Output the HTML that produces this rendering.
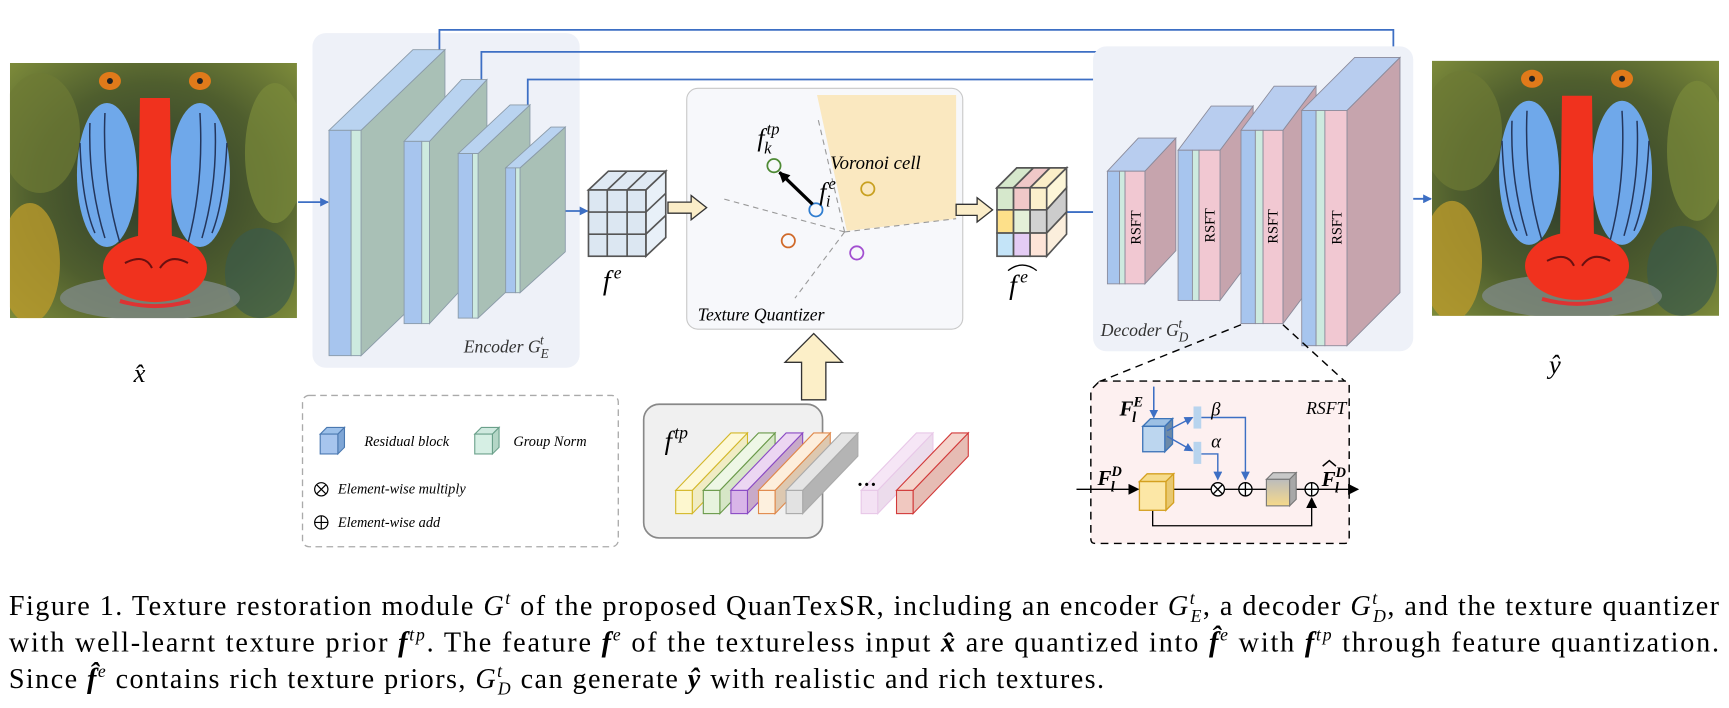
<!DOCTYPE html>
<html><head><meta charset="utf-8"><style>
html,body{margin:0;padding:0;background:#fff;}
svg{display:block;}
text{font-family:"Liberation Serif",serif;}
.it{font-style:italic;}
</style></head><body>
<svg width="1729" height="708" viewBox="0 0 1566 641" preserveAspectRatio="none" xmlns="http://www.w3.org/2000/svg">
<defs>
<marker id="ab" markerWidth="8" markerHeight="8" refX="7" refY="4" orient="auto" markerUnits="userSpaceOnUse"><path d="M0,0 L8,4 L0,8 z" fill="#3d6fc4"/></marker>
<marker id="ak" markerWidth="10" markerHeight="10" refX="9" refY="5" orient="auto" markerUnits="userSpaceOnUse"><path d="M0,0 L10,5 L0,10 z" fill="#000"/></marker>
<radialGradient id="fur" cx="50%" cy="50%" r="70%"><stop offset="0" stop-color="#2c3a2a"/><stop offset="0.6" stop-color="#4f5e2e"/><stop offset="1" stop-color="#7c8a3a"/></radialGradient>
<linearGradient id="cg" x1="0" y1="0" x2="0" y2="1"><stop offset="0" stop-color="#bcbcbc"/><stop offset="1" stop-color="#f6d98a"/></linearGradient>
<clipPath id="bc"><rect x="0" y="0" width="287" height="255"/></clipPath>
<g id="baboon" clip-path="url(#bc)">
<rect x="0" y="0" width="287" height="255" fill="url(#fur)"/>
<ellipse cx="30" cy="70" rx="40" ry="60" fill="#6e7a34" opacity="0.7"/>
<ellipse cx="20" cy="200" rx="30" ry="60" fill="#b99a2c" opacity="0.8"/>
<ellipse cx="265" cy="90" rx="30" ry="70" fill="#7a8a3a" opacity="0.7"/>
<ellipse cx="250" cy="210" rx="35" ry="45" fill="#3a5a4a" opacity="0.7"/>
<ellipse cx="140" cy="235" rx="90" ry="22" fill="#7e8a86" opacity="0.8"/>
<ellipse cx="100" cy="18" rx="11" ry="9" fill="#e07a1a"/>
<ellipse cx="190" cy="18" rx="11" ry="9" fill="#e07a1a"/>
<circle cx="100" cy="18" r="3" fill="#222"/><circle cx="190" cy="18" r="3" fill="#222"/>
<ellipse cx="97" cy="112" rx="30" ry="72" fill="#6fa8ea"/>
<ellipse cx="190" cy="112" rx="30" ry="72" fill="#6fa8ea"/>
<g stroke="#24365c" stroke-width="1.5" fill="none">
<path d="M80 60 Q78 120 95 175"/><path d="M95 50 Q92 120 110 180"/><path d="M70 80 Q72 140 85 170"/>
<path d="M205 60 Q208 120 192 175"/><path d="M190 50 Q194 120 178 180"/><path d="M217 80 Q214 140 202 170"/>
</g>
<path d="M130 35 L160 35 L162 180 L128 180 z" fill="#f0321e"/>
<ellipse cx="145" cy="205" rx="52" ry="34" fill="#f0321e"/>
<path d="M115 200 Q135 190 142 205 M150 205 Q160 190 178 200" stroke="#6a1010" stroke-width="2" fill="none"/>
<path d="M110 238 Q145 248 180 238" stroke="#d33" stroke-width="4" fill="none"/>
</g>
</defs>

<!-- images -->
<use href="#baboon" transform="translate(9,57) scale(0.9058)"/>
<use href="#baboon" transform="translate(1297,55) scale(0.9058)"/>
<text x="121" y="346" font-size="24" class="it">x̂</text>
<text x="1403" y="338" font-size="24" class="it">ŷ</text>

<!-- encoder bg -->
<rect x="283" y="30" width="242" height="303" rx="12" fill="#eef1f8"/>
<!-- skip lines -->
<g stroke="#3d6fc4" stroke-width="1.6" fill="none">
<polyline points="398,47 398,27 1262,27 1262,55" marker-end="url(#ab)"/>
<polyline points="436,72 436,47 1190,47 1190,72" marker-end="url(#ab)"/>
<polyline points="478,95 478,72 1133,72 1133,90" marker-end="url(#ab)"/>
<line x1="270" y1="183" x2="297" y2="183" marker-end="url(#ab)"/>
<line x1="478" y1="191" x2="532" y2="191" marker-end="url(#ab)"/>
<line x1="948" y1="192" x2="1002" y2="192" marker-end="url(#ab)"/>
<line x1="1268" y1="180" x2="1296" y2="180" marker-end="url(#ab)"/>
</g>
<!-- encoder slabs -->
<g stroke="#8a9aa8" stroke-width="0.8">
<polygon points="327,118 403,45 403,249 327,322" fill="#a9c0b6"/>
<polygon points="298,118 374,45 403,45 327,118" fill="#b9d3f0"/>
<rect x="298" y="118" width="20" height="204" fill="#a7c5ee"/><rect x="318" y="118" width="9" height="204" fill="#cdeadf"/>

<polygon points="389,128 441,72 441,237 389,293" fill="#a9c0b6"/>
<polygon points="366,128 418,72 441,72 389,128" fill="#b9d3f0"/>
<rect x="366" y="128" width="16" height="165" fill="#a7c5ee"/><rect x="382" y="128" width="7" height="165" fill="#cdeadf"/>

<polygon points="433,139 480,95 480,244 433,288" fill="#a9c0b6"/>
<polygon points="415,139 462,95 480,95 433,139" fill="#b9d3f0"/>
<rect x="415" y="139" width="13" height="149" fill="#a7c5ee"/><rect x="428" y="139" width="5" height="149" fill="#cdeadf"/>

<polygon points="471,152 512,115 512,228 471,265" fill="#a9c0b6"/>
<polygon points="458,152 499,115 512,115 471,152" fill="#b9d3f0"/>
<rect x="458" y="152" width="9" height="113" fill="#a7c5ee"/><rect x="467" y="152" width="4" height="113" fill="#cdeadf"/>
</g>
<text x="420" y="319" font-size="16" class="it" fill="#333">Encoder G<tspan font-size="12" dy="5">E</tspan><tspan font-size="12" dx="-8" dy="-12">t</tspan></text>

<!-- f^e cube -->
<g stroke="#555" stroke-width="1.5">
<polygon points="533,172 551,155 603,155 585,172" fill="#dfe9f3"/>
<polygon points="585,172 603,155 603,215 585,232" fill="#e8f0f8"/>
<rect x="533" y="172" width="52" height="60" fill="#dce7f2"/>
<path d="M550 172V232M568 172V232M533 192H585M533 212H585M550 172L568 155M568 172L586 155M585 192L603 175M585 212L603 195" fill="none"/>
</g>
<text x="546" y="262" font-size="25" class="it">f<tspan font-size="16" dx="3" dy="-10">e</tspan></text>

<!-- quantizer -->
<rect x="622" y="80" width="250" height="218" rx="10" fill="#f7f8fb" stroke="#c8c8c8"/>
<polygon points="740,86 866,86 866,198 767,209" fill="#fae8c0"/>
<g stroke="#999" stroke-width="1" stroke-dasharray="5,4" fill="none">
<line x1="765" y1="210" x2="741" y2="108"/><line x1="765" y1="210" x2="655" y2="180"/>
<line x1="765" y1="210" x2="720" y2="270"/><line x1="765" y1="210" x2="866" y2="198"/>
</g>
<g fill="none" stroke-width="1.6">
<circle cx="701" cy="150" r="6" stroke="#4e8a34"/><circle cx="739" cy="190" r="6" stroke="#2f7dd0"/>
<circle cx="786" cy="171" r="6" stroke="#c8a020"/><circle cx="714" cy="218" r="6" stroke="#d06a2a"/>
<circle cx="776" cy="229" r="6" stroke="#a24fd0"/>
</g>
<line x1="736" y1="185" x2="706" y2="156" stroke="#000" stroke-width="3" marker-end="url(#ak)"/>
<text x="686" y="132" font-size="23" class="it">f<tspan font-size="15" dx="2" dy="-10">tp</tspan><tspan font-size="15" dx="-14" dy="17">k</tspan></text>
<text x="742" y="181" font-size="23" class="it">f<tspan font-size="15" dx="2" dy="-10">e</tspan><tspan font-size="15" dx="-9" dy="16">i</tspan></text>
<text x="752" y="153" font-size="17" class="it">Voronoi cell</text>
<text x="632" y="290" font-size="16" class="it">Texture Quantizer</text>

<!-- hollow arrows -->
<path d="M605,183 H626 V177 L640,188 L626,199 V193 H605 z" fill="#fbedc8" stroke="#333" stroke-width="1.2"/>
<path d="M866,185 H885 V179 L899,190 L885,201 V195 H866 z" fill="#fbedc8" stroke="#333" stroke-width="1.2"/>

<!-- big up arrow -->
<path d="M726,362 V328 H711 L737,302 L763,328 H748 V362 z" fill="#fcefc8" stroke="#333" stroke-width="1.2"/>
<!-- ftp box -->
<rect x="583" y="366" width="162" height="121" rx="14" fill="#f0f0f0" stroke="#888" stroke-width="1.5"/>
<text x="602" y="407" font-size="24" class="it">f<tspan font-size="16" dx="2" dy="-10">tp</tspan></text>
<g stroke-width="1">
<g stroke="#d4b82a"><polygon points="627,444 677,392 677,413 627,465" fill="#f0ecc4"/><polygon points="612,444 662,392 677,392 627,444" fill="#fdf8d8"/><rect x="612" y="444" width="15" height="21" fill="#fdf7cf"/></g>
<g stroke="#6a9a4a"><polygon points="652,444 702,392 702,413 652,465" fill="#d6e6c6"/><polygon points="637,444 687,392 702,392 652,444" fill="#eef7e6"/><rect x="637" y="444" width="15" height="21" fill="#e7f3de"/></g>
<g stroke="#8a4ac4"><polygon points="677,444 727,392 727,413 677,465" fill="#c8aac8"/><polygon points="662,444 712,392 727,392 677,444" fill="#ecd6f2"/><rect x="662" y="444" width="15" height="21" fill="#d9b5e8"/></g>
<g stroke="#e0884a"><polygon points="702,444 752,392 752,413 702,465" fill="#ddc8b0"/><polygon points="687,444 737,392 752,392 702,444" fill="#fdeedc"/><rect x="687" y="444" width="15" height="21" fill="#fdf0de"/></g>
<g stroke="#aaa"><polygon points="727,444 777,392 777,413 727,465" fill="#b4b4b4"/><polygon points="712,444 762,392 777,392 727,444" fill="#e4e4e4"/><rect x="712" y="444" width="15" height="21" fill="#e2e2e2"/></g>
<g stroke="#e8c8e8"><polygon points="795,444 845,392 845,413 795,465" fill="#ecdcec"/><polygon points="780,444 830,392 845,392 795,444" fill="#f6e6f6"/><rect x="780" y="444" width="15" height="21" fill="#f4e2f4"/></g>
<g stroke="#d23a3a"><polygon points="827,444 877,392 877,413 827,465" fill="#e6bcb4"/><polygon points="812,444 862,392 877,392 827,444" fill="#f4d4cc"/><rect x="812" y="444" width="15" height="21" fill="#f0c8c0"/></g>
</g>
<text x="776" y="440" font-size="18" font-weight="bold">…</text>

<!-- f-hat cube -->
<g stroke="#555" stroke-width="1.5">
<polygon points="903,170 921,152 966,152 948,170" fill="#eee"/>
<polygon points="903,170 921,152 936,152 918,170" fill="#d6e8cc"/><polygon points="918,170 936,152 951,152 933,170" fill="#f0c8c8"/><polygon points="933,170 951,152 966,152 948,170" fill="#fbeec8"/>
<polygon points="948,170 966,152 966,170 948,190" fill="#fdf6d8"/><polygon points="948,190 966,170 966,192 948,211" fill="#cccccc"/><polygon points="948,211 966,192 966,212 948,232" fill="#fbeedc"/>
<rect x="903" y="170" width="15" height="20" fill="#d6e8cc"/><rect x="918" y="170" width="15" height="20" fill="#f0c8c8"/><rect x="933" y="170" width="15" height="20" fill="#fbf0cc"/>
<rect x="903" y="190" width="15" height="21" fill="#fde08a"/><rect x="918" y="190" width="15" height="21" fill="#e4f0d8"/><rect x="933" y="190" width="15" height="21" fill="#d2d2d2"/>
<rect x="903" y="211" width="15" height="21" fill="#c4e4f8"/><rect x="918" y="211" width="15" height="21" fill="#e4ccf4"/><rect x="933" y="211" width="15" height="21" fill="#fde4d8"/>
</g>
<text x="914" y="266" font-size="25" class="it">f<tspan font-size="16" dx="3" dy="-10">e</tspan></text>
<path d="M913 245 Q926 235 939 245" stroke="#000" stroke-width="1.2" fill="none"/>

<!-- decoder -->
<rect x="990" y="42" width="290" height="276" rx="12" fill="#eef1f8"/>
<g stroke="#8a8a9a" stroke-width="0.8">
<polygon points="1037,155 1065,125 1065,227 1037,257" fill="#c6a4ad"/>
<polygon points="1003,155 1031,125 1065,125 1037,155" fill="#b8cdef"/>
<rect x="1003" y="155" width="11" height="102" fill="#a7c5ee"/><rect x="1014" y="155" width="5" height="102" fill="#cdeadf"/><rect x="1019" y="155" width="18" height="102" fill="#f1c8d2"/>

<polygon points="1105,136 1135,96 1135,232 1105,272" fill="#c6a4ad"/>
<polygon points="1067,136 1097,96 1135,96 1105,136" fill="#b8cdef"/>
<rect x="1067" y="136" width="13" height="136" fill="#a7c5ee"/><rect x="1080" y="136" width="6" height="136" fill="#cdeadf"/><rect x="1086" y="136" width="19" height="136" fill="#f1c8d2"/>

<polygon points="1162,118 1192,78 1192,253 1162,293" fill="#c6a4ad"/>
<polygon points="1124,118 1154,78 1192,78 1162,118" fill="#b8cdef"/>
<rect x="1124" y="118" width="13" height="175" fill="#a7c5ee"/><rect x="1137" y="118" width="7" height="175" fill="#cdeadf"/><rect x="1144" y="118" width="18" height="175" fill="#f1c8d2"/>

<polygon points="1220,100 1268,52 1268,265 1220,313" fill="#c6a4ad"/>
<polygon points="1179,100 1227,52 1268,52 1220,100" fill="#b8cdef"/>
<rect x="1179" y="100" width="13" height="213" fill="#a7c5ee"/><rect x="1192" y="100" width="8" height="213" fill="#cdeadf"/><rect x="1200" y="100" width="20" height="213" fill="#f1c8d2"/>
</g>
<g font-size="13">
<text transform="translate(1033,206) rotate(-90)" text-anchor="middle">RSFT</text>
<text transform="translate(1100,204) rotate(-90)" text-anchor="middle">RSFT</text>
<text transform="translate(1157,205) rotate(-90)" text-anchor="middle">RSFT</text>
<text transform="translate(1215,206) rotate(-90)" text-anchor="middle">RSFT</text>
</g>
<text x="997" y="304" font-size="16" class="it" fill="#333">Decoder G<tspan font-size="12" dy="5">D</tspan><tspan font-size="12" dx="-9" dy="-12">t</tspan></text>

<!-- zoom lines + RSFT box -->
<g stroke="#000" stroke-width="1.3" stroke-dasharray="7,5" fill="none">
<line x1="1124" y1="294" x2="992" y2="347"/><line x1="1162" y1="294" x2="1220" y2="347"/>
</g>
<path d="M996,345 H1218 Q1222,345 1222,349 V488 Q1222,492 1218,492 H992 Q988,492 988,488 V353 z" fill="#fdf0f0" stroke="#000" stroke-width="1.3" stroke-dasharray="7,5"/>
<text x="1183" y="375" font-size="16" class="it">RSFT</text>
<text x="1014" y="376" font-size="19" font-weight="bold" class="it">F<tspan font-size="13" dy="-8">E</tspan><tspan font-size="13" dx="-10" dy="14">l</tspan></text>
<line x1="1045" y1="350" x2="1045" y2="378" stroke="#3d6fc4" stroke-width="1.4" marker-end="url(#ab)"/>
<g stroke="#3d74b8" stroke-width="1.2">
<polygon points="1035,386 1042,379 1062,379 1055,386" fill="#9cc0e4"/>
<polygon points="1055,386 1062,379 1062,402 1055,409" fill="#6c8aa8"/>
<rect x="1035" y="386" width="20" height="23" fill="#bcd6ef"/>
</g>
<g stroke="#3d6fc4" stroke-width="1.3" fill="none">
<line x1="1057" y1="390" x2="1080" y2="378" marker-end="url(#ab)"/>
<line x1="1057" y1="395" x2="1080" y2="408" marker-end="url(#ab)"/>
<polyline points="1088,378 1128,378 1128,434" marker-end="url(#ab)"/>
<polyline points="1088,411 1103,411 1103,434" marker-end="url(#ab)"/>
</g>
<rect x="1081" y="368" width="7" height="20" fill="#b8d4ee"/>
<rect x="1081" y="400" width="7" height="20" fill="#b8d4ee"/>
<text x="1097" y="376" font-size="17" class="it">β</text>
<text x="1097" y="405" font-size="17" class="it">α</text>
<text x="994" y="439" font-size="19" font-weight="bold" class="it">F<tspan font-size="13" dy="-8">D</tspan><tspan font-size="13" dx="-10" dy="14">l</tspan></text>
<g stroke="#000" stroke-width="1.2" fill="none">
<line x1="975" y1="443" x2="1031" y2="443" marker-end="url(#ak)"/>
<line x1="1058" y1="443" x2="1097" y2="443"/>
<line x1="1109" y1="443" x2="1122" y2="443"/>
<line x1="1134" y1="443" x2="1147" y2="443"/>
<line x1="1168" y1="443" x2="1182" y2="443"/>
<line x1="1194" y1="443" x2="1230" y2="443" marker-end="url(#ak)"/>
<polyline points="1044,462 1044,476 1188,476 1188,451" marker-end="url(#ak)"/>
<circle cx="1103" cy="443" r="6" fill="#fff"/><path d="M1099,439 L1107,447 M1107,439 L1099,447"/>
<circle cx="1128" cy="443" r="6" fill="#fff"/><path d="M1122,443 H1134 M1128,437 V449"/>
<circle cx="1188" cy="443" r="6" fill="#fff"/><path d="M1182,443 H1194 M1188,437 V449"/>
</g>
<g stroke="#d4a020" stroke-width="1.2">
<polygon points="1032,436 1039,429 1063,429 1056,436" fill="#f6dc8c"/>
<polygon points="1056,436 1063,429 1063,455 1056,462" fill="#e8c870"/>
<rect x="1032" y="436" width="24" height="26" fill="#fce7a6"/>
</g>
<g stroke="#777" stroke-width="1">
<polygon points="1147,434 1153,428 1174,428 1168,434" fill="#c8c8c8"/>
<polygon points="1168,434 1174,428 1174,452 1168,458" fill="#a8a8a8"/>
<rect x="1147" y="434" width="21" height="24" fill="url(#cg)"/>
</g>
<text x="1197" y="440" font-size="19" font-weight="bold" class="it">F<tspan font-size="13" dy="-8">D</tspan><tspan font-size="13" dx="-10" dy="14">l</tspan></text>
<path d="M1198 422 L1204 417 L1210 422" stroke="#000" stroke-width="1.4" fill="none"/>

<!-- legend -->
<rect x="274" y="358" width="286" height="137" rx="6" fill="#fff" stroke="#aaa" stroke-width="1.2" stroke-dasharray="6,4"/>
<g stroke="#4a78b0" stroke-width="1"><polygon points="290,393 296,387 312,387 306,393" fill="#9cc0ea"/><polygon points="306,393 312,387 312,405 306,411" fill="#7fa6d6"/><rect x="290" y="393" width="16" height="18" fill="#a7c5ee"/></g>
<g stroke="#6aa08a" stroke-width="1"><polygon points="430,393 436,387 452,387 446,393" fill="#cfe9df"/><polygon points="446,393 452,387 452,405 446,411" fill="#b4d6c6"/><rect x="430" y="393" width="16" height="18" fill="#d6efe4"/></g>
<text x="330" y="404" font-size="13" class="it">Residual block</text>
<text x="465" y="404" font-size="13" class="it">Group Norm</text>
<g stroke="#000" stroke-width="1.1" fill="none">
<circle cx="291" cy="443" r="6"/><path d="M287,439 L295,447 M295,439 L287,447"/>
<circle cx="291" cy="473" r="6"/><path d="M285,473 H297 M291,467 V479"/>
</g>
<text x="306" y="447" font-size="13" class="it">Element-wise multiply</text>
<text x="306" y="477" font-size="13" class="it">Element-wise add</text>

<!-- caption -->
<g font-size="25.5">
<text x="8" y="557" textLength="1549" lengthAdjust="spacing">Figure 1. Texture restoration module <tspan class="it">G</tspan><tspan font-size="16" dy="-10" class="it">t</tspan><tspan dy="10"> of the proposed QuanTexSR, including an encoder </tspan><tspan class="it">G</tspan><tspan font-size="16" dy="-10" class="it">t</tspan><tspan font-size="16" dx="-5" dy="16" class="it">E</tspan><tspan dy="-6">, a decoder </tspan><tspan class="it">G</tspan><tspan font-size="16" dy="-10" class="it">t</tspan><tspan font-size="16" dx="-5" dy="16" class="it">D</tspan><tspan dy="-6">, and the texture quantizer</tspan></text>
<text x="8" y="590" textLength="1549" lengthAdjust="spacing">with well-learnt texture prior <tspan font-weight="bold" class="it">f</tspan><tspan font-size="16" dy="-10" class="it">tp</tspan><tspan dy="10">. The feature </tspan><tspan font-weight="bold" class="it">f</tspan><tspan font-size="16" dy="-10" class="it">e</tspan><tspan dy="10"> of the textureless input </tspan><tspan font-weight="bold" class="it">x̂</tspan><tspan> are quantized into </tspan><tspan font-weight="bold" class="it">f̂</tspan><tspan font-size="16" dy="-10" class="it">e</tspan><tspan dy="10"> with </tspan><tspan font-weight="bold" class="it">f</tspan><tspan font-size="16" dy="-10" class="it">tp</tspan><tspan dy="10"> through feature quantization.</tspan></text>
<text x="8" y="623" textLength="992" lengthAdjust="spacing">Since <tspan font-weight="bold" class="it">f̂</tspan><tspan font-size="16" dy="-10" class="it">e</tspan><tspan dy="10"> contains rich texture priors, </tspan><tspan class="it">G</tspan><tspan font-size="16" dy="-10" class="it">t</tspan><tspan font-size="16" dx="-5" dy="16" class="it">D</tspan><tspan dy="-6"> can generate </tspan><tspan font-weight="bold" class="it">ŷ</tspan><tspan> with realistic and rich textures.</tspan></text>
</g>
</svg>
</body></html>
